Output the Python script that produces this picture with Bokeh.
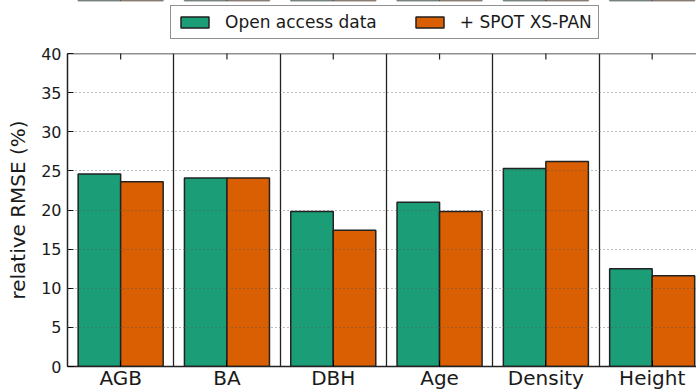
import numpy as np
from bokeh.plotting import figure
from bokeh.layouts import column
from bokeh.models import (Range1d, FixedTicker, Legend, LegendItem, Span)
from bokeh.embed import file_html
from bokeh.resources import INLINE

# ---- data ----
categories = ["AGB", "BA", "DBH", "Age", "Density", "Height"]
open_access = [24.6, 24.1, 19.8, 21.0, 25.3, 12.5]
spot_xs_pan = [23.6, 24.1, 17.4, 19.8, 26.2, 11.6]
series_names = ["Open access data", "+ SPOT XS-PAN"]
y_ticks = [0, 5, 10, 15, 20, 25, 30, 35, 40]

GREEN = "#1b9e77"
ORANGE = "#d95f02"
FONT = "DejaVu Sans"

idx = np.arange(len(categories))
bounds = list((idx[:-1] + 0.5).tolist())
y_top = y_ticks[-1]

# ---------- main chart ----------
p = figure(width=696, height=347, output_backend="svg", toolbar_location=None,
           x_range=Range1d(-0.5, 5.417), y_range=Range1d(0, y_top),
           min_border_left=67, min_border_right=0, min_border_top=8,
           min_border_bottom=2)
p.outline_line_color = None
p.background_fill_color = "white"
p.border_fill_color = "white"

r1 = p.vbar(x=idx - 0.2, top=open_access, width=0.4, fill_color=GREEN,
            line_color="#222222", line_width=1.5)
r2 = p.vbar(x=idx + 0.2, top=spot_xs_pan, width=0.4, fill_color=ORANGE,
            line_color="#222222", line_width=1.5)

xaxis = p.xaxis[0]
xaxis.ticker = FixedTicker(ticks=idx.tolist())
xaxis.major_label_overrides = {int(i): c for i, c in zip(idx, categories)}
xaxis.major_label_text_font = FONT
xaxis.major_label_text_font_size = "20px"
xaxis.major_label_text_color = "#1a1a1a"
xaxis.major_tick_in = 6
xaxis.major_tick_out = 0
xaxis.minor_tick_line_color = None
xaxis.major_label_standoff = -1
xaxis.axis_line_color = "#222222"
xaxis.axis_line_width = 1.5

yaxis = p.yaxis[0]
yaxis.ticker = FixedTicker(ticks=y_ticks)
yaxis.axis_label = "relative RMSE (%)"
yaxis.major_label_text_font = FONT
yaxis.major_label_text_font_size = "16px"
yaxis.major_label_text_color = "#1a1a1a"
yaxis.major_tick_in = 6
yaxis.major_tick_out = 0
yaxis.minor_tick_line_color = None
yaxis.major_label_standoff = 6
yaxis.axis_label_text_font = FONT
yaxis.axis_label_text_font_size = "20px"
yaxis.axis_label_text_font_style = "normal"
yaxis.axis_label_text_color = "#1a1a1a"
yaxis.axis_label_standoff = 8
yaxis.axis_line_color = "#222222"
yaxis.axis_line_width = 1.5

# top frame line and inward ticks at category centres
p.add_layout(Span(location=y_top, dimension="width", line_color="#222222", line_width=1.5))
p.scatter(x=idx, y=[y_top] * len(idx), marker="dash", angle=np.pi / 2, size=12,
          line_color="#222222", line_width=1.2)

p.ygrid.ticker = FixedTicker(ticks=y_ticks)
p.ygrid.grid_line_color = "#555555"
p.ygrid.grid_line_alpha = 0.8
p.ygrid.grid_line_dash = "1 3"
p.ygrid.grid_line_width = 1
p.ygrid.level = "overlay"
p.xgrid.ticker = FixedTicker(ticks=bounds)
p.xgrid.grid_line_color = "#222222"
p.xgrid.grid_line_width = 1.3

# ---------- legend strip ----------
# the same series are drawn here (outside this strip's visible range) only to
# provide legend swatches
lf = figure(width=696, height=45, output_backend="svg", toolbar_location=None,
            x_range=Range1d(-0.5, 5.417), y_range=Range1d(-2, -1),
            x_axis_location=None, y_axis_location=None,
            min_border_left=0, min_border_right=0, min_border_top=0,
            min_border_bottom=0)
lf.outline_line_color = None
lf.grid.visible = False
lf.background_fill_color = "white"
lf.border_fill_color = "white"
l1 = lf.vbar(x=idx - 0.2, top=open_access, width=0.4, fill_color=GREEN,
             line_color="#222222", line_width=1.5)
l2 = lf.vbar(x=idx + 0.2, top=spot_xs_pan, width=0.4, fill_color=ORANGE,
             line_color="#222222", line_width=1.5)

legend = Legend(items=[LegendItem(label=series_names[0], renderers=[l1]),
                       LegendItem(label=series_names[1], renderers=[l2])],
                orientation="horizontal", location=(103, 6))
legend.margin = 0
legend.padding = 6
legend.label_height = 18
legend.glyph_width = 35
legend.glyph_height = 14
legend.label_standoff = 13
legend.spacing = 35
legend.label_text_font = FONT
legend.label_text_font_size = "17px"
legend.label_text_color = "#1a1a1a"
legend.border_line_color = "#222222"
legend.border_line_width = 1.2
legend.background_fill_color = "white"
legend.background_fill_alpha = 1
lf.add_layout(legend, "center")

layout = column(lf, p, spacing=0)
open("out.html", "w").write(file_html(layout, INLINE))
